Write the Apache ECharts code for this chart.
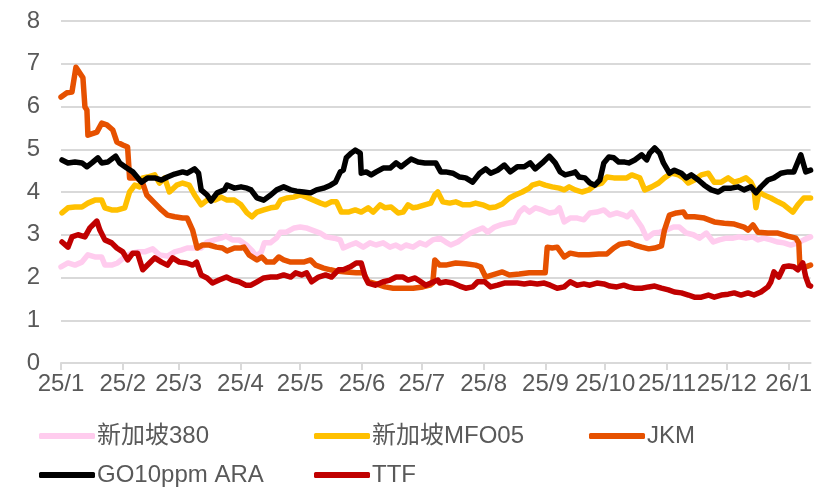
<!DOCTYPE html>
<html>
<head>
<meta charset="utf-8">
<script src="https://cdn.jsdelivr.net/npm/echarts@6/dist/echarts.min.js"></script>
<style>
  html, body { margin: 0; padding: 0; background: #fff; }
  #chart { width: 815px; height: 487px; }
</style>
</head>
<body>
<div id="chart"></div>
<script>
// x = days since 2025-01-01, y = value
const tickDays = [0, 31, 59, 90, 120, 151, 181, 212, 243, 273, 304, 334, 365];
const tickLabels = ['25/1', '25/2', '25/3', '25/4', '25/5', '25/6', '25/7', '25/8', '25/9', '25/10', '25/11', '25/12', '26/1'];

const seriesNames = ['新加坡380', '新加坡MFO05', 'JKM', 'GO10ppm ARA', 'TTF'];
const seriesColors = ['#FFCCEE', '#FFC000', '#E65100', '#000000', '#C00000'];

const sg380 = [
  [0, 2.25], [3.5, 2.34], [7, 2.29], [10.5, 2.36], [13.5, 2.53], [17, 2.48], [20.4, 2.48], [22, 2.29],
  [25.4, 2.29], [28.4, 2.34], [32, 2.48], [35.4, 2.57], [38.4, 2.6], [42, 2.6], [46, 2.67], [49.4, 2.53],
  [53.4, 2.5], [57, 2.6], [60.3, 2.64], [63.3, 2.69], [67, 2.69], [70.3, 2.69], [73.3, 2.83], [77, 2.88],
  [80.3, 2.92], [82.8, 2.97], [86, 2.88], [89.3, 2.88], [93, 2.76], [96, 2.62], [98, 2.5], [100.5, 2.6],
  [102, 2.81], [105, 2.81], [108, 2.92], [110, 3.06], [113, 3.06], [117, 3.16], [120, 3.18], [123, 3.16],
  [127, 3.09], [130, 3.04], [133, 2.95], [137, 2.92], [140, 2.88], [141.6, 2.69], [145, 2.76], [148, 2.81],
  [151.6, 2.71], [155, 2.81], [158, 2.76], [161.6, 2.81], [165, 2.71], [168, 2.76], [170.6, 2.69], [173, 2.76],
  [176.6, 2.71], [180, 2.81], [183, 2.76], [186.5, 2.88], [190, 2.92], [193, 2.83], [195.5, 2.76], [199, 2.83],
  [202.5, 2.95], [205.5, 3.04], [209, 3.11], [211.5, 3.16], [214, 3.06], [217.5, 3.18], [220.5, 3.23], [224, 3.27],
  [227.4, 3.3], [230, 3.53], [232.4, 3.63], [235, 3.53], [238, 3.63], [241.4, 3.58], [245, 3.51], [248, 3.53],
  [250, 3.63], [252.4, 3.3], [255.4, 3.39], [259, 3.39], [262.3, 3.35], [265.3, 3.51], [268.8, 3.53], [272.3, 3.58],
  [275.3, 3.46], [278.8, 3.51], [282.3, 3.46], [284, 3.42], [286.3, 3.53], [288.8, 3.35], [291.3, 3.18], [293.8, 2.92],
  [297.3, 3.04], [300.3, 3.06], [303.7, 3.11], [307.2, 3.18], [310.2, 3.18], [313.7, 3.04], [317.2, 3.0], [320.2, 2.92],
  [323.7, 3.04], [327.2, 2.83], [330.2, 2.88], [333.7, 2.92], [337.2, 2.92], [340.1, 2.95], [343.6, 2.92], [347.1, 2.95],
  [349.6, 2.88], [352.6, 2.92], [356.1, 2.88], [359.6, 2.83], [362.6, 2.81], [366.1, 2.76], [369.6, 2.81], [372.6, 2.88],
  [376, 2.95]
];

const mfo05 = [
  [0.5, 3.51], [3.5, 3.63], [7, 3.65], [10.5, 3.65], [13.5, 3.74], [17, 3.81], [20.4, 3.81], [22, 3.63],
  [25.4, 3.58], [28.4, 3.58], [32, 3.63], [34.4, 4.0], [37, 4.16], [39.4, 4.12], [41, 4.33], [43.4, 4.35],
  [47, 4.4], [49.4, 4.21], [52, 4.33], [54.4, 4.0], [58, 4.16], [61, 4.21], [64.3, 4.16], [67, 3.93],
  [70.3, 3.7], [73.3, 3.81], [77, 3.81], [80.3, 3.88], [83.3, 3.81], [87, 3.81], [90.3, 3.7], [93.3, 3.51],
  [95.8, 3.42], [98.3, 3.53], [101.7, 3.58], [105.2, 3.63], [108.2, 3.65], [110.2, 3.81], [113.2, 3.86], [116.7, 3.88],
  [120.2, 3.93], [123.2, 3.88], [126.7, 3.81], [130.2, 3.74], [132.7, 3.7], [135.7, 3.77], [138.2, 3.77], [140.6, 3.53],
  [144.1, 3.53], [147.6, 3.58], [150.6, 3.53], [154.1, 3.63], [156.6, 3.53], [160.1, 3.7], [162.6, 3.63], [165.6, 3.65],
  [169.1, 3.51], [171.6, 3.53], [174.1, 3.7], [176.6, 3.63], [179.1, 3.65], [182.5, 3.7], [185.5, 3.74], [187.5, 3.93],
  [189, 4.0], [191.5, 3.77], [195, 3.74], [198, 3.77], [201.5, 3.7], [205, 3.7], [208, 3.74], [211.5, 3.7],
  [215, 3.63], [218, 3.65], [221.4, 3.72], [224.9, 3.86], [227.9, 3.93], [231.4, 4.0], [234.9, 4.09], [236.4, 4.16],
  [239.9, 4.21], [242.9, 4.16], [246.4, 4.12], [249.9, 4.09], [252.4, 4.05], [254.9, 4.12], [257.9, 4.05], [261.3, 4.0],
  [264.8, 4.05], [267.8, 4.16], [271.3, 4.21], [273.8, 4.35], [277.3, 4.33], [279.8, 4.33], [283.8, 4.33], [286.3, 4.4],
  [290.3, 4.33], [292.8, 4.05], [296.3, 4.12], [299.8, 4.21], [302.7, 4.33], [306.2, 4.44], [309.7, 4.4], [312.2, 4.33],
  [314.7, 4.21], [317.7, 4.28], [321.2, 4.4], [324.7, 4.44], [327.7, 4.23], [331.2, 4.23], [334.7, 4.33], [337.7, 4.23],
  [341.1, 4.28], [343.6, 4.33], [346.1, 4.23], [347.6, 4.09], [348.6, 3.63], [350.1, 4.0], [352.6, 3.93], [356.1, 3.86],
  [359.6, 3.77], [362.6, 3.7], [367.1, 3.53], [369.6, 3.7], [372.6, 3.86], [376, 3.86]
];

const jkm = [
  [0, 6.22], [3, 6.32], [5.5, 6.34], [7.5, 6.92], [11, 6.67], [12, 5.99], [13, 5.92], [13.5, 5.33],
  [18, 5.4], [20.4, 5.61], [23, 5.57], [26, 5.45], [28, 5.17], [31, 5.1], [33.4, 5.05], [34.4, 4.33],
  [38, 4.33], [38.4, 4.35], [41, 4.21], [43, 3.93], [47, 3.74], [50.4, 3.58], [53.4, 3.46], [57, 3.42],
  [61, 3.39], [63.3, 3.39], [66, 3.11], [68.3, 2.69], [71, 2.76], [74.3, 2.76], [78, 2.71], [81, 2.69],
  [83.3, 2.62], [87, 2.69], [90.3, 2.69], [91.8, 2.71], [94.3, 2.53], [95.3, 2.53], [98.3, 2.41], [100.7, 2.48],
  [103.2, 2.36], [106.7, 2.36], [109.2, 2.48], [111.7, 2.41], [115.2, 2.36], [118.2, 2.36], [121.7, 2.36], [125.2, 2.41],
  [127.7, 2.29], [131.7, 2.22], [135.2, 2.18], [138.2, 2.15], [143.1, 2.13], [148.1, 2.11], [151.6, 2.11], [154.1, 1.9],
  [158.1, 1.85], [162.6, 1.78], [166.6, 1.75], [171.6, 1.75], [176.6, 1.75], [181.5, 1.78], [185, 1.82], [186.5, 1.87],
  [187.5, 2.41], [190, 2.29], [193, 2.29], [198, 2.34], [203, 2.32], [208, 2.29], [210.5, 2.25], [213, 2.01],
  [216.5, 2.06], [221.4, 2.13], [224.9, 2.06], [229.9, 2.08], [234.9, 2.11], [239.9, 2.11], [242.9, 2.11], [243.9, 2.71],
  [246.4, 2.69], [248.9, 2.71], [252.4, 2.48], [255.4, 2.57], [259.9, 2.53], [264.8, 2.53], [269.8, 2.55], [273.8, 2.55],
  [277.3, 2.69], [280.3, 2.78], [284.8, 2.81], [287.8, 2.76], [291.3, 2.71], [294.8, 2.67], [297.8, 2.69], [301.2, 2.74],
  [302.7, 3.11], [305.2, 3.46], [308.7, 3.51], [312.2, 3.53], [313.7, 3.42], [317.7, 3.42], [322.7, 3.39], [327.7, 3.3],
  [332.7, 3.27], [337.7, 3.25], [342.6, 3.18], [344.6, 3.11], [347.1, 3.23], [349.6, 3.06], [354.6, 3.04], [359.6, 3.04],
  [364.6, 2.97], [368.6, 2.92], [370.1, 2.81], [370.6, 2.29], [373.6, 2.25], [376, 2.29]
];

const go10 = [
  [0.5, 4.75], [3.5, 4.68], [7, 4.7], [10.5, 4.68], [13, 4.59], [15.5, 4.68], [18.5, 4.8], [20.4, 4.68],
  [23.4, 4.7], [27.4, 4.84], [29.4, 4.68], [33, 4.56], [36, 4.47], [40.4, 4.23], [43.4, 4.33], [47, 4.33],
  [50.4, 4.28], [53.4, 4.35], [57, 4.42], [61, 4.47], [63.3, 4.44], [67, 4.54], [69, 4.44], [70.3, 4.05],
  [73.3, 3.93], [75.3, 3.79], [78.3, 3.98], [82, 4.05], [83.3, 4.16], [87, 4.09], [90.3, 4.12], [93.3, 4.09],
  [95.3, 4.05], [98.3, 3.86], [101.7, 3.81], [105.2, 3.93], [108.2, 4.05], [111.7, 4.12], [115.2, 4.05], [118.2, 4.02],
  [121.7, 4.0], [125.2, 3.98], [128.2, 4.05], [131.7, 4.09], [135.2, 4.16], [137.7, 4.23], [140.1, 4.47], [141.6, 4.51],
  [143.1, 4.8], [145.6, 4.91], [147.6, 4.98], [150.1, 4.91], [150.6, 4.44], [153.1, 4.47], [155.6, 4.4], [158.1, 4.47],
  [161.6, 4.56], [165.1, 4.56], [168.1, 4.68], [170.6, 4.59], [173.1, 4.68], [175.6, 4.77], [179.1, 4.7], [182.5, 4.68],
  [185.5, 4.68], [188, 4.68], [190.5, 4.47], [193, 4.47], [196.5, 4.44], [200, 4.35], [203, 4.33], [206.5, 4.23],
  [210, 4.44], [213, 4.54], [215.5, 4.44], [219, 4.51], [222.4, 4.63], [225.4, 4.47], [228.9, 4.59], [232.4, 4.59],
  [235.4, 4.68], [237.9, 4.54], [241.4, 4.68], [244.9, 4.84], [247.9, 4.68], [250.4, 4.47], [252.9, 4.4], [256.4, 4.44],
  [257.9, 4.47], [259.9, 4.35], [262.8, 4.33], [265.3, 4.21], [267.8, 4.16], [270.3, 4.28], [272.3, 4.68], [274.8, 4.82],
  [277.3, 4.8], [279.8, 4.7], [282.8, 4.7], [284.8, 4.68], [287.8, 4.75], [291.3, 4.87], [293.8, 4.75], [295.3, 4.91],
  [297.8, 5.03], [300.3, 4.91], [302.2, 4.68], [305.2, 4.44], [307.7, 4.51], [311.2, 4.44], [313.7, 4.33], [316.2, 4.4],
  [319.7, 4.28], [322.7, 4.16], [326.2, 4.05], [329.7, 4.0], [332.7, 4.09], [336.2, 4.09], [339.7, 4.12], [342.6, 4.05],
  [346.1, 4.12], [348.6, 3.98], [351.1, 4.12], [354.6, 4.28], [357.6, 4.33], [361.1, 4.44], [364.6, 4.47], [367.6, 4.47],
  [371.1, 4.87], [373.6, 4.47], [376, 4.51]
];

const ttf = [
  [0.5, 2.83], [3.5, 2.71], [5.5, 2.95], [8.5, 3.0], [12, 2.95], [14.5, 3.16], [18, 3.32], [19.5, 3.11],
  [22, 2.88], [25.4, 2.81], [28, 2.69], [31, 2.6], [33.4, 2.41], [36, 2.57], [38.4, 2.57], [41, 2.18],
  [44.4, 2.34], [47, 2.46], [50.4, 2.36], [53.4, 2.29], [56, 2.46], [59.4, 2.36], [63, 2.34], [66, 2.29],
  [68, 2.36], [70.3, 2.06], [73.3, 1.99], [76, 1.87], [79.3, 1.94], [83, 2.01], [86, 1.94], [89.3, 1.9],
  [92.8, 1.82], [95.3, 1.82], [98.3, 1.9], [101.7, 1.99], [105.2, 2.01], [108.2, 2.01], [111.7, 2.06], [115.2, 2.01],
  [117.7, 2.11], [120.7, 2.06], [123.2, 2.11], [125.7, 1.9], [129.2, 2.01], [132.7, 2.06], [135.7, 2.01], [139.2, 2.18],
  [141.6, 2.18], [145.1, 2.25], [148.1, 2.34], [150.6, 2.34], [152.6, 2.01], [154.1, 1.87], [157.6, 1.82], [161.6, 1.9],
  [165.1, 1.94], [168.1, 2.01], [171.6, 2.01], [174.1, 1.94], [177.6, 1.99], [180.5, 1.9], [183, 1.82], [185.5, 1.87],
  [189, 1.94], [190, 1.87], [193, 1.9], [196.5, 1.87], [200, 1.8], [203, 1.75], [206.5, 1.78], [209, 1.9],
  [212.5, 1.9], [215.5, 1.78], [219, 1.82], [222.4, 1.87], [225.4, 1.87], [228.9, 1.87], [232.4, 1.85], [235.4, 1.87],
  [238.9, 1.85], [242.4, 1.87], [245.4, 1.82], [248.9, 1.75], [252.4, 1.78], [255.4, 1.9], [258.9, 1.82], [262.3, 1.85],
  [265.3, 1.82], [268.8, 1.87], [272.3, 1.85], [275.3, 1.8], [278.8, 1.78], [282.3, 1.82], [284.8, 1.78], [287.8, 1.75],
  [291.3, 1.75], [294.8, 1.78], [297.8, 1.8], [301.2, 1.75], [304.7, 1.71], [307.7, 1.66], [311.2, 1.64], [314.7, 1.59],
  [317.7, 1.54], [321.2, 1.54], [324.7, 1.59], [327.7, 1.54], [331.2, 1.59], [334.7, 1.61], [337.7, 1.64], [341.1, 1.59],
  [344.6, 1.64], [347.6, 1.59], [351.1, 1.66], [354.6, 1.78], [356.1, 1.9], [357.6, 2.13], [360.1, 2.01], [362.6, 2.25],
  [365.1, 2.27], [367.6, 2.25], [369.6, 2.18], [372.1, 2.34], [373.6, 2.01], [375.1, 1.82], [376, 1.8]
];

const seriesData = [sg380, mfo05, jkm, go10, ttf];

const font = '"Liberation Sans", Arial, "Noto Sans CJK SC", sans-serif';
const textColor = '#595959';
const gridColor = '#D9D9D9';

// legend: 3 columns, 2 rows
const legendPos = [[39, 424], [314, 424], [589, 424], [39, 463], [314, 463]];

const chart = echarts.init(document.getElementById('chart'), null, { renderer: 'canvas' });

chart.setOption({
  animation: false,
  grid: { left: 61, right: 0, top: 21, bottom: 124 },
  legend: seriesNames.map((name, i) => ({
    data: [name],
    left: legendPos[i][0],
    top: legendPos[i][1],
    padding: 0,
    icon: 'roundRect',
    itemWidth: 56,
    itemHeight: 6,
    textStyle: { fontSize: 24, color: textColor, fontFamily: font, padding: [0, 0, 0, -3] },
  })),
  xAxis: {
    type: 'value',
    min: 0,
    max: 376,
    axisLine: { show: true, lineStyle: { color: gridColor, width: 2 } },
    axisTick: {
      show: true,
      customValues: tickDays,
      length: 7,
      lineStyle: { color: gridColor, width: 2 },
    },
    axisLabel: {
      customValues: tickDays,
      margin: 9,
      fontSize: 24,
      color: textColor,
      fontFamily: font,
      formatter: (v) => tickLabels[tickDays.indexOf(v)],
    },
    splitLine: { show: false },
  },
  yAxis: {
    type: 'value',
    min: 0,
    max: 8,
    interval: 1,
    axisLine: { show: false },
    axisTick: { show: false },
    axisLabel: { margin: 21, fontSize: 24, color: textColor, fontFamily: font },
    splitLine: { lineStyle: { color: gridColor, width: 2 } },
  },
  series: seriesNames.map((name, i) => ({
    name,
    type: 'line',
    data: seriesData[i],
    showSymbol: false,
    symbol: 'none',
    smooth: false,
    color: seriesColors[i],
    lineStyle: { width: 5.5, color: seriesColors[i], cap: 'round', join: 'round' },
  })),
});
</script>
</body>
</html>
